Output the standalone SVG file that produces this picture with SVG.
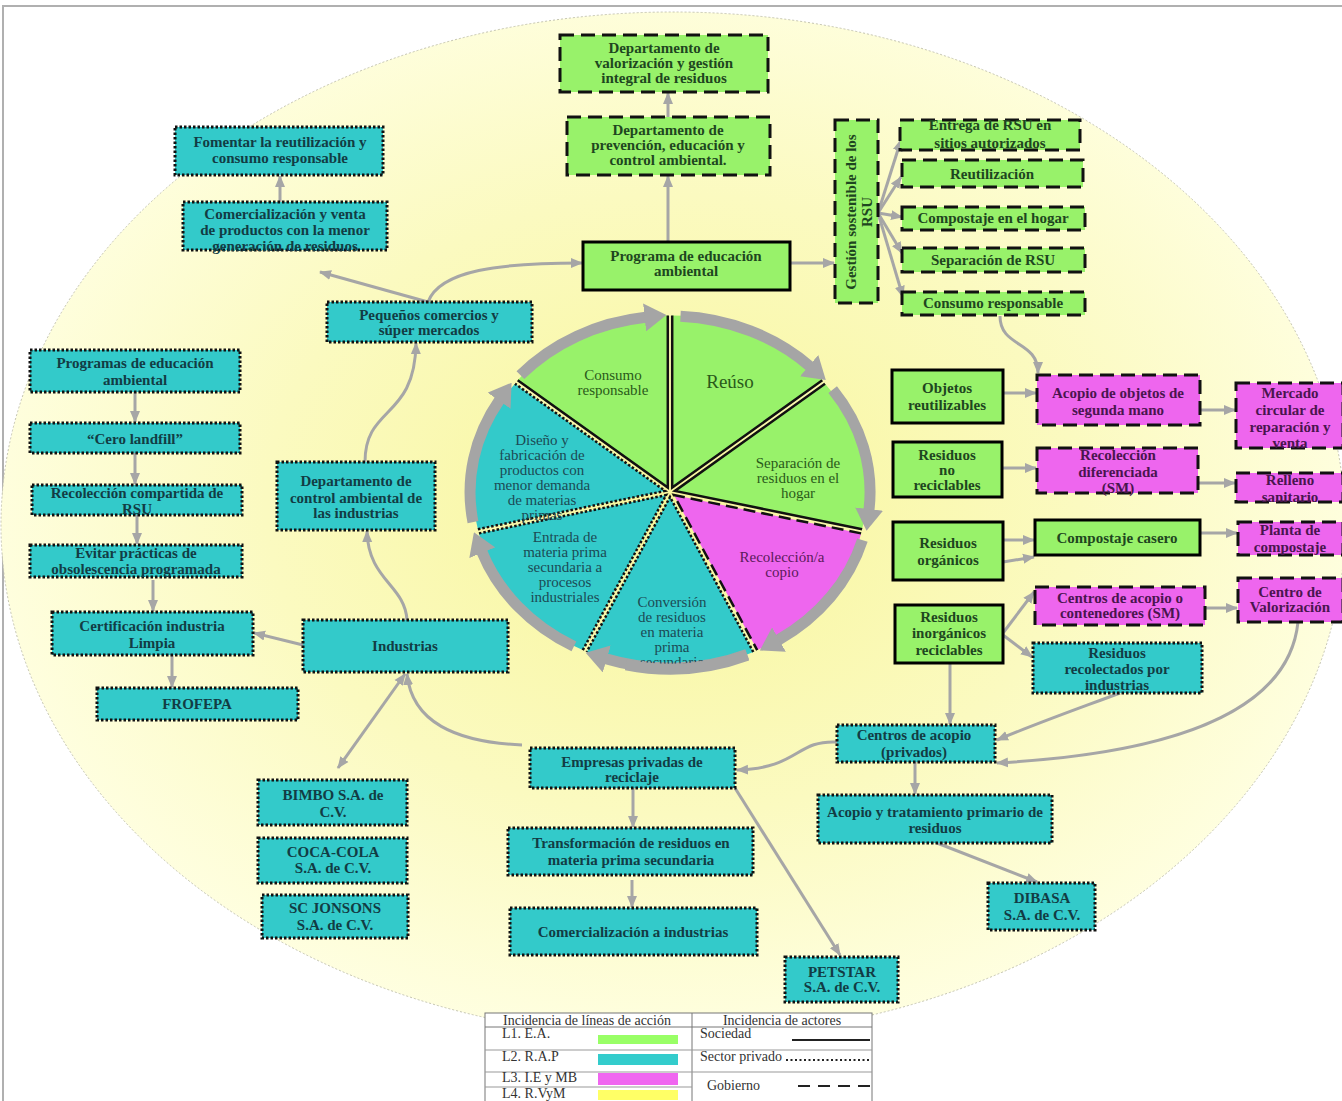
<svg xmlns="http://www.w3.org/2000/svg" width="1342" height="1101" viewBox="0 0 1342 1101">
<defs>
<style>
.g{fill:#98F26A}
.t{fill:#33CACA}
.m{fill:#EE66EE}
.sol{stroke:#000;stroke-width:3}
.dsh{stroke:#111;stroke-width:3;stroke-dasharray:14 7}
.dot{stroke:#111;stroke-width:3;stroke-dasharray:2.5 2}
text{font-family:"Liberation Serif","Times New Roman",serif}
.lb{font-weight:bold;font-size:15px;text-anchor:middle}
.tg{fill:#1E4620}
.tt{fill:#123C44}
.tm{fill:#4A154F}
.cn{fill:none;stroke:#A6A6A6;stroke-width:3;marker-end:url(#ah)}
.ring{fill:none;stroke:#A5A5A5;stroke-width:11;marker-end:url(#bh)}
.edge{fill:none;stroke:#111;stroke-width:2.5}
.pt{font-size:15px;text-anchor:middle}
.lg{font-size:14px;fill:#333}
</style>
<radialGradient id="halo" cx="0.5" cy="0.48" r="0.55">
<stop offset="0" stop-color="#F8F69C"/>
<stop offset="0.55" stop-color="#FBFAC0"/>
<stop offset="1" stop-color="#FFFFE4"/>
</radialGradient>
<marker id="ah" markerUnits="userSpaceOnUse" markerWidth="12" markerHeight="12" refX="11" refY="6" orient="auto-start-reverse">
<path d="M0,1 L12,6 L0,11 Z" fill="#A6A6A6"/>
</marker>
<marker id="bh" markerUnits="userSpaceOnUse" markerWidth="22" markerHeight="28" refX="1" refY="14" orient="auto">
<path d="M0,0 L22,14 L0,28 Z" fill="#A5A5A5"/>
</marker>
</defs>

<rect x="0" y="0" width="1342" height="1101" fill="#fff"/>

<!-- backdrop: frame and halo ellipse -->
<g id="backdrop">
<rect x="3" y="6" width="1360" height="1120" fill="none" stroke="#B0B0B0" stroke-width="2"/>
<ellipse cx="673" cy="525" rx="672" ry="513" fill="url(#halo)" stroke="#C4C4B0" stroke-width="1" stroke-dasharray="2 2"/>
</g>

<!-- central cycle -->
<g id="cycle">
<g id="slice-reuso" transform="translate(2.2,-4.5)">
<path class="g" d="M670,492 L670,320 A192,172 0 0 1 820.1,384.8 Z"/>
<path class="edge" d="M670,320 L670,492 L820.1,384.8"/>
</g>
<g id="slice-separacion" transform="translate(4.9,-1.1)">
<path class="g" d="M670,492 L820.1,384.8 A192,172 0 0 1 857.2,530.3 Z"/>
<path class="edge" d="M820.1,384.8 L670,492 L857.2,530.3"/>
</g>
<g id="slice-recoleccion" transform="translate(3.9,3.1)">
<path class="m" d="M670,492 L857.2,530.3 A192,172 0 0 1 753.3,647 Z"/>
<path class="edge" stroke-dasharray="12 6" d="M857.2,530.3 L670,492 L753.3,647"/>
</g>
<g id="slice-conversion" transform="translate(0,5)">
<path class="t" d="M670,492 L753.3,647 A192,172 0 0 1 586.7,647 Z"/>
<path class="edge" stroke-dasharray="2.5 2" d="M753.3,647 L670,492 L586.7,647"/>
</g>
<g id="slice-entrada" transform="translate(-3.9,3.1)">
<path class="t" d="M670,492 L586.7,647 A192,172 0 0 1 482.8,530.3 Z"/>
<path class="edge" stroke-dasharray="2.5 2" d="M586.7,647 L670,492 L482.8,530.3"/>
</g>
<g id="slice-diseno" transform="translate(-4.9,-1.1)">
<path class="t" d="M670,492 L482.8,530.3 A192,172 0 0 1 519.9,384.8 Z"/>
<path class="edge" stroke-dasharray="2.5 2" d="M482.8,530.3 L670,492 L519.9,384.8"/>
</g>
<g id="slice-consumo" transform="translate(-2.2,-4.5)">
<path class="g" d="M670,492 L519.9,384.8 A192,172 0 0 1 670,320 Z"/>
<path class="edge" d="M519.9,384.8 L670,492 L670,320"/>
</g>

<!-- ring of arrows, clockwise -->
<path class="ring" d="M680.5,316.2 A200,176 0 0 1 809.9,366.3"/>
<path class="ring" d="M832.7,389.6 A200,176 0 0 1 869,510"/>
<path class="ring" d="M862.4,540.1 A200,176 0 0 1 778.1,640.1"/>
<path class="ring" d="M747.2,654.4 A200,176 0 0 1 605.8,658.7"/>
<path class="ring" d="M573.9,646.4 A200,176 0 0 1 481.9,551.8"/>
<path class="ring" d="M473,522.1 A200,176 0 0 1 499.6,399.9"/>
<path class="ring" d="M520.4,375.2 A200,176 0 0 1 645.6,317.3"/>

<text class="pt" fill="#2A5A1A"><tspan x="613" y="380">Consumo</tspan><tspan x="613" y="395">responsable</tspan></text>
<text class="pt" fill="#2A5A1A" style="font-size:19px" x="730" y="388">Reúso</text>
<text class="pt" fill="#2A5A1A"><tspan x="798" y="468">Separación de</tspan><tspan x="798" y="483">residuos en el</tspan><tspan x="798" y="498">hogar</tspan></text>
<text class="pt" fill="#5A1A5A"><tspan x="782" y="562">Recolección/a</tspan><tspan x="782" y="577">copio</tspan></text>
<text class="pt" fill="#1C4A55"><tspan x="672" y="607">Conversión</tspan><tspan x="672" y="622">de residuos</tspan><tspan x="672" y="637">en materia</tspan><tspan x="672" y="652">prima</tspan><tspan x="672" y="667">secundaria</tspan></text>
<text class="pt" fill="#1C4A55"><tspan x="565" y="542">Entrada de</tspan><tspan x="565" y="557">materia prima</tspan><tspan x="565" y="572">secundaria a</tspan><tspan x="565" y="587">procesos</tspan><tspan x="565" y="602">industriales</tspan></text>
<text class="pt" fill="#1C4A55"><tspan x="542" y="445">Diseño y</tspan><tspan x="542" y="460">fabricación de</tspan><tspan x="542" y="475">productos con</tspan><tspan x="542" y="490">menor demanda</tspan><tspan x="542" y="505">de materias</tspan><tspan x="542" y="520">primas</tspan></text>
<!-- bottom of the ring drawn again so it sits over the last label line -->
<path fill="none" stroke="#A5A5A5" stroke-width="11" d="M747.2,655.4 A200,176 0 0 1 626,664.8"/>
</g>

<!-- connectors -->
<g id="connectors">
<path class="cn" d="M668,242 L668,176"/>
<path class="cn" d="M668,117 L668,93"/>
<path class="cn" d="M790,263 L834,263"/>
<path class="cn" d="M878,213 L901,140"/>
<path class="cn" d="M878,213 L901,177"/>
<path class="cn" d="M878,213 L902,217"/>
<path class="cn" d="M878,213 L902,253"/>
<path class="cn" d="M878,213 L903,297"/>
<path class="cn" d="M1000,316 C1000,348 1038,340 1038,373"/>
<path class="cn" d="M1003,393 L1036,393"/>
<path class="cn" d="M1200,410 L1235,410"/>
<path class="cn" d="M1002,468 L1036,468"/>
<path class="cn" d="M1198,483 L1235,483"/>
<path class="cn" d="M1003,540 L1034,540"/>
<path class="cn" d="M1003,562 L1034,557"/>
<path class="cn" d="M1200,533 L1237,533"/>
<path class="cn" d="M1205,608 L1237,608"/>
<path class="cn" d="M1003,633 L1034,592"/>
<path class="cn" d="M1003,635 L1032,657"/>
<path class="cn" d="M950,663 L950,724"/>
<path class="cn" d="M1120,693 C1080,708 1040,722 997,740"/>
<path class="cn" d="M1298,622 C1290,700 1200,752 997,763"/>
<path class="cn" d="M837,742 C795,740 800,768 737,770"/>
<path class="cn" d="M915,762 L915,794"/>
<path class="cn" d="M937,843 L1037,882"/>
<path class="cn" d="M633,788 L633,827"/>
<path class="cn" d="M632,880 L632,907"/>
<path class="cn" d="M735,788 L840,955"/>
<path class="cn" d="M522,745 C455,742 412,722 407,674"/>
<path class="cn" marker-start="url(#ah)" d="M405,674 L338,768"/>
<path class="cn" d="M303,645 L254,633"/>
<path class="cn" d="M407,620 C405,585 368,580 367,531"/>
<path class="cn" d="M365,462 C365,405 415,420 416,343"/>
<path class="cn" d="M428,302 L320,272"/>
<path class="cn" d="M280,202 L280,176"/>
<path class="cn" d="M428,302 C440,270 500,263 582,263"/>
<path class="cn" d="M135,392 L135,422"/>
<path class="cn" d="M135,453 L135,484"/>
<path class="cn" d="M137,515 L137,544"/>
<path class="cn" d="M153,580 L153,611"/>
<path class="cn" d="M172,655 L172,687"/>
</g>

<!-- government (dashed) nodes -->
<g id="n-valorizacion"><rect class="g dsh" x="560" y="35" width="208" height="57"/>
<text class="lb tg"><tspan x="664" y="53">Departamento de</tspan><tspan x="664" y="68">valorización y gestión</tspan><tspan x="664" y="83">integral de residuos</tspan></text></g>
<g id="n-prevencion"><rect class="g dsh" x="567" y="117" width="203" height="58"/>
<text class="lb tg"><tspan x="668" y="135">Departamento de</tspan><tspan x="668" y="150">prevención, educación y</tspan><tspan x="668" y="165">control ambiental.</tspan></text></g>
<g id="n-gestion"><rect class="g dsh" x="835" y="120" width="43" height="183"/>
<text class="lb tg" transform="translate(856,212) rotate(-90)"><tspan x="0" y="0">Gestión sostenible de los</tspan><tspan x="0" y="16">RSU</tspan></text></g>
<g id="n-entrega"><rect class="g dsh" x="900" y="120" width="180" height="30"/>
<text class="lb tg"><tspan x="990" y="130">Entrega de RSU en</tspan><tspan x="990" y="148">sitios autorizados</tspan></text></g>
<g id="n-reutilizacion"><rect class="g dsh" x="902" y="160" width="181" height="27"/>
<text class="lb tg" x="992" y="179">Reutilización</text></g>
<g id="n-compostaje-hogar"><rect class="g dsh" x="902" y="207" width="183" height="23"/>
<text class="lb tg" x="993" y="223">Compostaje en el hogar</text></g>
<g id="n-separacion-rsu"><rect class="g dsh" x="902" y="248" width="183" height="24"/>
<text class="lb tg" x="993" y="265">Separación de RSU</text></g>
<g id="n-consumo-resp"><rect class="g dsh" x="902" y="292" width="183" height="23"/>
<text class="lb tg" x="993" y="308">Consumo responsable</text></g>
<g id="n-acopio-segunda"><rect class="m dsh" x="1037" y="375" width="163" height="50"/>
<text class="lb tm"><tspan x="1118" y="398">Acopio de objetos de</tspan><tspan x="1118" y="415">segunda mano</tspan></text></g>
<g id="n-mercado"><rect class="m dsh" x="1236" y="383" width="107" height="65"/>
<text class="lb tm"><tspan x="1290" y="398">Mercado</tspan><tspan x="1290" y="415">circular de</tspan><tspan x="1290" y="432">reparación y</tspan><tspan x="1290" y="448">venta</tspan></text></g>
<g id="n-recoleccion-dif"><rect class="m dsh" x="1037" y="448" width="161" height="45"/>
<text class="lb tm"><tspan x="1118" y="460">Recolección</tspan><tspan x="1118" y="477">diferenciada</tspan><tspan x="1118" y="493">(SM)</tspan></text></g>
<g id="n-relleno"><rect class="m dsh" x="1236" y="473" width="107" height="29"/>
<text class="lb tm"><tspan x="1290" y="485">Relleno</tspan><tspan x="1290" y="502">sanitario</tspan></text></g>
<g id="n-planta"><rect class="m dsh" x="1238" y="522" width="105" height="33"/>
<text class="lb tm"><tspan x="1290" y="535">Planta de</tspan><tspan x="1290" y="552">compostaje</tspan></text></g>
<g id="n-centros-sm"><rect class="m dsh" x="1035" y="587" width="170" height="38"/>
<text class="lb tm"><tspan x="1120" y="603">Centros de acopio o</tspan><tspan x="1120" y="618">contenedores (SM)</tspan></text></g>
<g id="n-valorizacion-centro"><rect class="m dsh" x="1238" y="578" width="105" height="44"/>
<text class="lb tm"><tspan x="1290" y="597">Centro de</tspan><tspan x="1290" y="612">Valorización</tspan></text></g>

<!-- society (solid) nodes -->
<g id="n-programa"><rect class="g sol" x="583" y="242" width="207" height="48"/>
<text class="lb tg"><tspan x="686" y="261">Programa de educación</tspan><tspan x="686" y="276">ambiental</tspan></text></g>
<g id="n-objetos"><rect class="g sol" x="892" y="370" width="111" height="53"/>
<text class="lb tg"><tspan x="947" y="393">Objetos</tspan><tspan x="947" y="410">reutilizables</tspan></text></g>
<g id="n-no-reciclables"><rect class="g sol" x="893" y="442" width="109" height="55"/>
<text class="lb tg"><tspan x="947" y="460">Residuos</tspan><tspan x="947" y="475">no</tspan><tspan x="947" y="490">reciclables</tspan></text></g>
<g id="n-organicos"><rect class="g sol" x="893" y="522" width="110" height="58"/>
<text class="lb tg"><tspan x="948" y="548">Residuos</tspan><tspan x="948" y="565">orgánicos</tspan></text></g>
<g id="n-compostaje-casero"><rect class="g sol" x="1035" y="520" width="165" height="35"/>
<text class="lb tg" x="1117" y="543">Compostaje casero</text></g>
<g id="n-inorganicos"><rect class="g sol" x="895" y="605" width="108" height="58"/>
<text class="lb tg"><tspan x="949" y="622">Residuos</tspan><tspan x="949" y="638">inorgánicos</tspan><tspan x="949" y="655">reciclables</tspan></text></g>

<!-- private sector (dotted) nodes -->
<g id="n-fomentar"><rect class="t dot" x="175" y="127" width="208" height="48"/>
<text class="lb tt"><tspan x="280" y="147">Fomentar la reutilización y</tspan><tspan x="280" y="163">consumo responsable</tspan></text></g>
<g id="n-comercializacion-venta"><rect class="t dot" x="183" y="202" width="204" height="48"/>
<text class="lb tt"><tspan x="285" y="219">Comercialización y venta</tspan><tspan x="285" y="235">de productos con la menor</tspan><tspan x="285" y="251">generación de residuos</tspan></text></g>
<g id="n-pequenos"><rect class="t dot" x="327" y="302" width="205" height="40"/>
<text class="lb tt"><tspan x="429" y="320">Pequeños comercios y</tspan><tspan x="429" y="335">súper mercados</tspan></text></g>
<g id="n-programas-ea"><rect class="t dot" x="30" y="350" width="210" height="42"/>
<text class="lb tt"><tspan x="135" y="368">Programas de educación</tspan><tspan x="135" y="385">ambiental</tspan></text></g>
<g id="n-cero"><rect class="t dot" x="30" y="423" width="210" height="30"/>
<text class="lb tt" x="135" y="444">“Cero landfill”</text></g>
<g id="n-recoleccion-comp"><rect class="t dot" x="32" y="485" width="210" height="30"/>
<text class="lb tt"><tspan x="137" y="498">Recolección compartida de</tspan><tspan x="137" y="514">RSU</tspan></text></g>
<g id="n-evitar"><rect class="t dot" x="30" y="545" width="212" height="32"/>
<text class="lb tt"><tspan x="136" y="558">Evitar prácticas de</tspan><tspan x="136" y="574">obsolescencia programada</tspan></text></g>
<g id="n-certificacion"><rect class="t dot" x="52" y="612" width="201" height="43"/>
<text class="lb tt"><tspan x="152" y="631">Certificación industria</tspan><tspan x="152" y="648">Limpia</tspan></text></g>
<g id="n-frofepa"><rect class="t dot" x="97" y="688" width="201" height="32"/>
<text class="lb tt" x="197" y="709">FROFEPA</text></g>
<g id="n-dept-control"><rect class="t dot" x="277" y="462" width="158" height="68"/>
<text class="lb tt"><tspan x="356" y="486">Departamento de</tspan><tspan x="356" y="503">control ambiental de</tspan><tspan x="356" y="518">las industrias</tspan></text></g>
<g id="n-industrias"><rect class="t dot" x="303" y="620" width="205" height="52"/>
<text class="lb tt" x="405" y="651">Industrias</text></g>
<g id="n-bimbo"><rect class="t dot" x="258" y="780" width="149" height="45"/>
<text class="lb tt"><tspan x="333" y="800">BIMBO S.A. de</tspan><tspan x="333" y="817">C.V.</tspan></text></g>
<g id="n-cocacola"><rect class="t dot" x="258" y="838" width="149" height="45"/>
<text class="lb tt"><tspan x="333" y="857">COCA-COLA</tspan><tspan x="333" y="873">S.A. de C.V.</tspan></text></g>
<g id="n-scjonsons"><rect class="t dot" x="262" y="895" width="146" height="43"/>
<text class="lb tt"><tspan x="335" y="913">SC JONSONS</tspan><tspan x="335" y="930">S.A. de C.V.</tspan></text></g>
<g id="n-empresas"><rect class="t dot" x="530" y="748" width="205" height="40"/>
<text class="lb tt"><tspan x="632" y="767">Empresas privadas de</tspan><tspan x="632" y="782">reciclaje</tspan></text></g>
<g id="n-transformacion"><rect class="t dot" x="508" y="828" width="245" height="47"/>
<text class="lb tt"><tspan x="631" y="848">Transformación de residuos en</tspan><tspan x="631" y="865">materia prima  secundaria</tspan></text></g>
<g id="n-comercializacion-ind"><rect class="t dot" x="510" y="908" width="247" height="47"/>
<text class="lb tt" x="633" y="937">Comercialización a industrias</text></g>
<g id="n-petstar"><rect class="t dot" x="785" y="957" width="113" height="45"/>
<text class="lb tt"><tspan x="842" y="977">PETSTAR</tspan><tspan x="842" y="992">S.A. de C.V.</tspan></text></g>
<g id="n-centros-privados"><rect class="t dot" x="837" y="725" width="158" height="37"/>
<text class="lb tt"><tspan x="914" y="740">Centros de acopio</tspan><tspan x="914" y="757">(privados)</tspan></text></g>
<g id="n-acopio-tratamiento"><rect class="t dot" x="818" y="795" width="234" height="48"/>
<text class="lb tt"><tspan x="935" y="817">Acopio y tratamiento primario de</tspan><tspan x="935" y="833">residuos</tspan></text></g>
<g id="n-dibasa"><rect class="t dot" x="988" y="883" width="107" height="47"/>
<text class="lb tt"><tspan x="1042" y="903">DIBASA</tspan><tspan x="1042" y="920">S.A. de C.V.</tspan></text></g>
<g id="n-recolectados"><rect class="t dot" x="1033" y="643" width="169" height="50"/>
<text class="lb tt"><tspan x="1117" y="658">Residuos</tspan><tspan x="1117" y="674">recolectados por</tspan><tspan x="1117" y="690">industrias</tspan></text></g>

<!-- key table -->
<g id="legend">
<rect x="485" y="1013" width="387" height="95" fill="#fff" stroke="#777" stroke-width="1"/>
<line x1="692" y1="1013" x2="692" y2="1101" stroke="#777"/>
<line x1="485" y1="1027" x2="872" y2="1027" stroke="#777"/>
<line x1="485" y1="1050" x2="872" y2="1050" stroke="#999"/>
<line x1="485" y1="1072" x2="872" y2="1072" stroke="#999"/>
<line x1="485" y1="1087" x2="692" y2="1087" stroke="#999"/>
<text class="lg" x="587" y="1025" text-anchor="middle">Incidencia de líneas de acción</text>
<text class="lg" x="782" y="1025" text-anchor="middle">Incidencia de actores</text>
<text class="lg" x="502" y="1038">L1. E.A.</text>
<text class="lg" x="502" y="1061">L2. R.A.P</text>
<text class="lg" x="502" y="1082">L3. I.E y MB</text>
<text class="lg" x="502" y="1098">L4. R.VyM</text>
<rect x="598" y="1035" width="80" height="9" fill="#99FF66"/>
<rect x="598" y="1054" width="80" height="11" fill="#33CCCC"/>
<rect x="598" y="1073" width="80" height="12" fill="#F066F0"/>
<rect x="598" y="1090" width="80" height="10" fill="#FFFF66"/>
<text class="lg" x="700" y="1038">Sociedad</text>
<text class="lg" x="700" y="1061">Sector privado</text>
<text class="lg" x="707" y="1090">Gobierno</text>
<line x1="792" y1="1040" x2="870" y2="1040" stroke="#222" stroke-width="2"/>
<line x1="786" y1="1060" x2="870" y2="1060" stroke="#222" stroke-width="2" stroke-dasharray="2 2.5"/>
<line x1="798" y1="1086" x2="870" y2="1086" stroke="#222" stroke-width="2" stroke-dasharray="12 8"/>
</g>
</svg>
